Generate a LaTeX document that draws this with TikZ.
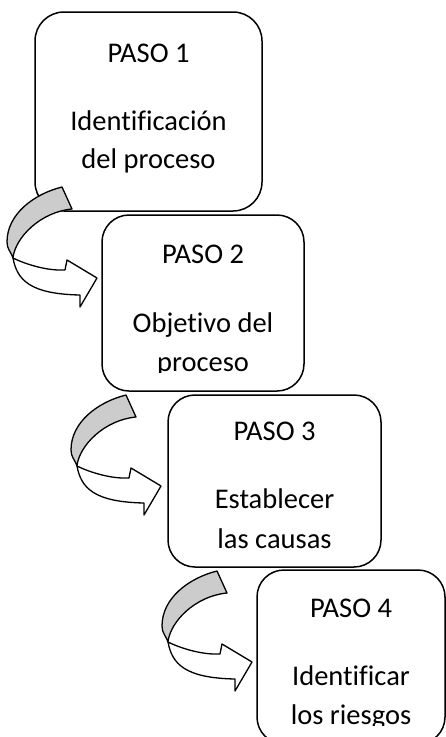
\documentclass[tikz,border=0pt]{standalone}
\usepackage{fontspec}
\setmainfont{Carlito}[Ligatures=NoCommon]
\definecolor{bandgray}{gray}{0.8}
\tikzset{
  curvarrow/.pic={
    \path[arrbody] (13,258) .. controls (17,280) and (30,294) .. (80,295)
      -- (80,307) -- (97,278) -- (67,260) -- (65,270)
      .. controls (45,271) and (23,263) .. (13,258) -- cycle;
    \path[arrband] (62,187) .. controls (34,194) and (7,214) .. (7,242)
      .. controls (7,249) and (10.5,251) .. (13,258)
      .. controls (15,238) and (40,212) .. (72,209) -- cycle;
  }
}
\begin{document}
\begin{tikzpicture}[x=1pt,y=-1pt,
  stepbox/.style={draw, line width=1.5pt, rounded corners=27pt, inner sep=0pt, outer sep=0pt, fill=white},
  txt/.style={anchor=base, inner sep=0pt, outer sep=0pt, font=\fontsize{28.5}{34}\selectfont},
  arrband/.style={draw, line width=1.3pt, fill=bandgray, line join=round},
  arrbody/.style={draw, line width=1.3pt, fill=white, line join=round}]
\useasboundingbox (0,0) rectangle (446,737);
\clip (0,0) rectangle (446,737);

% boxes
\node[stepbox, rounded corners=29pt, minimum width=227pt, minimum height=199pt] (b1) at (148.5,111.5) {};
\node[stepbox, minimum width=202pt, minimum height=176pt] (b2) at (203,303) {};
\node[stepbox, minimum width=213pt, minimum height=172pt] (b3) at (274.5,481) {};
\node[stepbox, minimum width=188pt, minimum height=174pt] (b4) at (351,657) {};

% texts box 1
\node[txt] (t1a) at (148.5,62) {PASO 1};
\node[txt] (t1b) at (148.5,130) {Identificación};
\node[txt] (t1c) at (148.5,168) {del proceso};

% texts box 2
\node[txt] (t2a) at (203,263) {PASO 2};
\node[txt] (t2b) at (203,332) {Objetivo del};
\begin{scope}
  \clip (100,300) rectangle (310,372);
  \node[txt] (t2c) at (203,371) {proceso};
\end{scope}

% texts box 3
\node[txt] (t3a) at (274.5,440) {PASO 3};
\node[txt] (t3b) at (274.5,508) {Establecer};
\node[txt] (t3c) at (274.5,548) {las causas};

% texts box 4
\node[txt] (t4a) at (351,617) {PASO 4};
\node[txt] (t4b) at (351,685) {Identificar};
\begin{scope}
  \clip (255,690) rectangle (446,725);
  \node[txt] (t4c) at (351,724) {los riesgos};
\end{scope}

% curved arrows
\pic at (0,0) {curvarrow};
\pic at (64,208) {curvarrow};
\pic at (155,384) {curvarrow};
\end{tikzpicture}
\end{document}
